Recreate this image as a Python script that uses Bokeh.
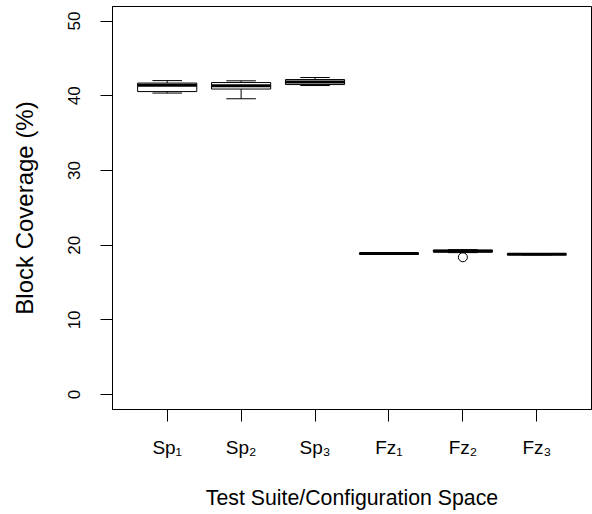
from bokeh.plotting import figure
from bokeh.models import FixedTicker, Range1d
from bokeh.embed import file_html
from bokeh.resources import INLINE

# ---- data ----
categories = ["Sp\u2081", "Sp\u2082", "Sp\u2083", "Fz\u2081", "Fz\u2082", "Fz\u2083"]
lower_whisker = [40.36, 39.6, 41.37, 18.75, 19.0, 18.70]
q1 = [40.56, 40.9, 41.5, 18.80, 19.1, 18.73]
median = [41.4, 41.35, 41.83, 18.87, 19.2, 18.78]
q3 = [41.7, 41.77, 42.17, 18.95, 19.35, 18.82]
upper_whisker = [42.03, 42.0, 42.44, 19.0, 19.4, 18.85]
outlier_x = [5]
outlier_y = [18.38]
y_ticks = [0, 10, 20, 30, 40, 50]

FONT = "Liberation Sans"
xs = list(range(1, len(categories) + 1))

p = figure(width=592, height=514, output_backend="svg", toolbar_location=None,
           x_range=Range1d(0.26, 6.74), y_range=Range1d(-2.0, 51.95),
           min_border_left=112, min_border_right=1, min_border_top=6,
           min_border_bottom=105)
p.background_fill_color = "white"
p.border_fill_color = "white"
p.outline_line_color = "black"
p.outline_line_width = 1
p.grid.visible = False

# boxes
bw = 0.4
p.segment(x0=xs, y0=lower_whisker, x1=xs, y1=q1, line_color="black", line_width=1)
p.segment(x0=xs, y0=q3, x1=xs, y1=upper_whisker, line_color="black", line_width=1)
p.segment(x0=[x - 0.2 for x in xs], y0=lower_whisker, x1=[x + 0.2 for x in xs],
          y1=lower_whisker, line_color="black", line_width=1)
p.segment(x0=[x - 0.2 for x in xs], y0=upper_whisker, x1=[x + 0.2 for x in xs],
          y1=upper_whisker, line_color="black", line_width=1)
p.quad(left=[x - bw for x in xs], right=[x + bw for x in xs], bottom=q1, top=q3,
       fill_color="white", line_color="black", line_width=1)
p.segment(x0=[x - bw for x in xs], y0=median, x1=[x + bw for x in xs], y1=median,
          line_color="black", line_width=3)
p.scatter(x=outlier_x, y=outlier_y, marker="circle", size=9, fill_color=None,
          line_color="black", line_width=1)

# y axis
ya = p.yaxis[0]
ya.ticker = FixedTicker(ticks=y_ticks)
ya.minor_tick_line_color = None
ya.major_tick_in = 0
ya.major_tick_out = 12
ya.major_label_orientation = "parallel"
ya.major_label_standoff = 20
ya.major_label_text_font = FONT
ya.major_label_text_font_size = "17px"
ya.major_label_text_color = "black"
ya.axis_line_color = "black"
ya.major_tick_line_color = "black"
ya.axis_label = "Block Coverage (%)"
ya.axis_label_text_font = FONT
ya.axis_label_text_font_size = "24px"
ya.axis_label_text_font_style = "normal"
ya.axis_label_text_color = "black"
ya.axis_label_standoff = 28

# x axis
xa = p.xaxis[0]
xa.ticker = FixedTicker(ticks=xs)
xa.minor_tick_line_color = None
xa.major_tick_in = 0
xa.major_tick_out = 12
xa.major_label_overrides = {x: c for x, c in zip(xs, categories)}
xa.major_label_text_font = FONT
xa.major_label_text_font_size = "19px"
xa.major_label_text_color = "black"
xa.major_label_standoff = 15
xa.axis_line_color = "black"
xa.major_tick_line_color = "black"
xa.axis_label = "Test Suite/Configuration Space"
xa.axis_label_text_font = FONT
xa.axis_label_text_font_size = "21.3px"
xa.axis_label_text_font_style = "normal"
xa.axis_label_text_color = "black"
xa.axis_label_standoff = 25

open("out.html", "w").write(file_html(p, INLINE))
